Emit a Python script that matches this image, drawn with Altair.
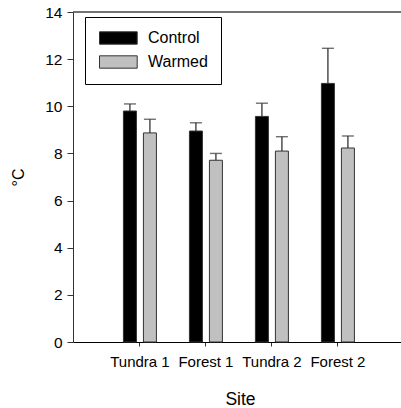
import altair as alt
import pandas as pd

sites = ["Tundra 1", "Forest 1", "Tundra 2", "Forest 2"]
treatments = ["Control", "Warmed"]
control_mean = [9.80, 8.95, 9.57, 10.97]
control_err = [0.30, 0.35, 0.56, 1.49]
warmed_mean = [8.87, 7.71, 8.10, 8.23]
warmed_err = [0.58, 0.29, 0.61, 0.51]
y_ticks = [0, 2, 4, 6, 8, 10, 12, 14]
y_max = 14

rows = []
for i, s in enumerate(sites):
    rows.append({"site": s, "treatment": "Control", "mean": control_mean[i],
                 "upper": control_mean[i] + control_err[i]})
    rows.append({"site": s, "treatment": "Warmed", "mean": warmed_mean[i],
                 "upper": warmed_mean[i] + warmed_err[i]})
df = pd.DataFrame(rows)

FONT = "Liberation Sans"
W, H = 328, 330

x_scale = alt.Scale(paddingInner=0, paddingOuter=0.485, align=0.53)
y_scale = alt.Scale(domain=[0, y_max], nice=False)

x_enc = alt.X("site:N", sort=sites, title="Site", scale=x_scale,
              axis=alt.Axis(labelAngle=0, labelFontSize=15, labelPadding=8,
                            tickSize=4, tickColor="#333", domainColor="#000",
                            titleFontSize=17.5, titleFontWeight="normal",
                            titleX=167, titleY=57, titleBaseline="middle",
                            labelColor="#000", titleColor="#000"))
xo_enc = alt.XOffset("treatment:N", sort=treatments,
                     scale=alt.Scale(paddingInner=0.35, paddingOuter=0.825))

base = alt.Chart(df)

bars = base.mark_bar(stroke="#333", strokeWidth=1).encode(
    x=x_enc,
    xOffset=xo_enc,
    y=alt.Y("mean:Q", title="°C", scale=y_scale,
            axis=alt.Axis(values=y_ticks, grid=False, labelFontSize=15.5,
                          labelPadding=5, tickSize=6, tickColor="#333",
                          domainColor="#333", titleFontSize=16,
                          titleFontWeight="normal", titleX=-55, titleY=165,
                          titleAngle=270, titleAlign="center",
                          titleBaseline="middle", labelColor="#000",
                          titleColor="#000")),
    fill=alt.Fill("treatment:N", sort=treatments, title=None,
                  scale=alt.Scale(domain=treatments, range=["#000000", "#c0c0c0"]),
                  legend=alt.Legend(orient="none", legendX=12, legendY=5,
                                    padding=13, strokeColor="#000",
                                    fillColor="#fff", labelFontSize=16,
                                    labelOffset=34, rowPadding=6,
                                    symbolType="M-1,-0.95H4.8V0.95H-1Z",
                                    symbolSize=169, symbolStrokeColor="#333",
                                    symbolStrokeWidth=1, labelColor="#000",
                                    symbolOpacity=1)),
)

rules = base.mark_rule(color="#333", strokeWidth=1.3).encode(
    x=alt.X("site:N", sort=sites, scale=x_scale),
    xOffset=xo_enc,
    y="mean:Q",
    y2="upper:Q",
)

caps = base.mark_tick(color="#333", size=12, thickness=1.4).encode(
    x=alt.X("site:N", sort=sites, scale=x_scale),
    xOffset=xo_enc,
    y="upper:Q",
)

# top frame line of the plot area at the y-axis maximum
frame_top = alt.Chart(pd.DataFrame({"top": [y_max]})).mark_rule(
    color="#444", strokeWidth=1.5
).encode(x=alt.value(0), x2=alt.value(W), y=alt.Y("top:Q", scale=y_scale))

chart = alt.layer(bars, rules, caps, frame_top).properties(
    width=W, height=H,
    autosize=alt.AutoSizeParams(type="none"),
    padding={"left": 73, "top": 12, "right": 0, "bottom": 66},
    background="white",
).configure(font=FONT).configure_view(strokeWidth=0)

chart.save("out.html", embed_options={"renderer": "svg", "actions": False})
